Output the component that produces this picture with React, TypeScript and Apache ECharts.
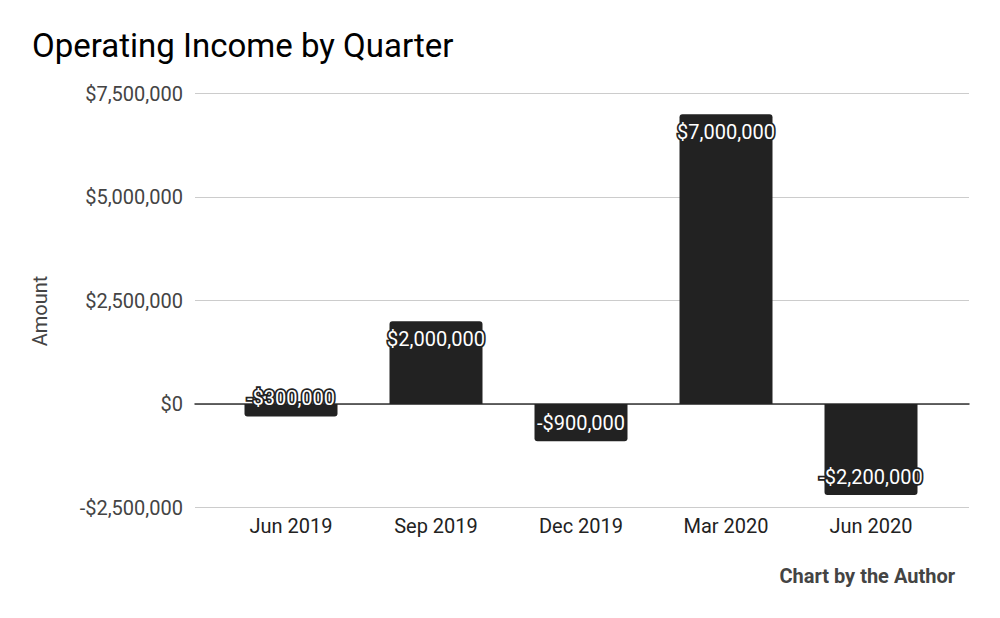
import React, { useEffect, useRef } from "react";
import * as echarts from "echarts";

const categories = ["Jun 2019", "Sep 2019", "Dec 2019", "Mar 2020", "Jun 2020"];
const operatingIncome = [-300000, 2000000, -900000, 7000000, -2200000];
const yMin = -2500000;
const yMax = 7500000;
const yStep = 2500000;

const money = (v: number) => {
  const s = Math.abs(v).toLocaleString("en-US");
  return (v < 0 ? "-$" : "$") + s;
};

export default function App() {
  const ref = useRef<HTMLDivElement>(null);
  useEffect(() => {
    if (!ref.current) return;
    const chart = echarts.init(ref.current, null, { renderer: "svg" });
    const font = "Roboto";
    chart.setOption({
      animation: false,
      backgroundColor: "#ffffff",
      textStyle: { fontFamily: font },
      title: {
        text: "Operating Income by Quarter",
        left: 27,
        top: 24,
        textStyle: { fontFamily: font, fontSize: 33, fontWeight: "normal", color: "#000000" },
      },
      graphic: [
        {
          type: "text",
          right: 45,
          top: 566,
          style: {
            text: "Chart by the Author",
            font: `bold 20px ${font}`,
            fill: "#444444",
          },
        },
        {
          type: "text",
          x: 40,
          y: 311,
          rotation: Math.PI / 2,
          style: {
            text: "Amount",
            font: `20px ${font}`,
            fill: "#444444",
            align: "center",
            verticalAlign: "middle",
          },
        },
      ],
      grid: [
        { left: 195, right: 31, top: 93.5, bottom: 110.5 },
        { left: 218.5, right: 56.5, top: 93.5, bottom: 110.5 },
      ],
      xAxis: [
        {
          type: "value",
          gridIndex: 0,
          min: 0,
          max: 1,
          axisLine: { show: true, onZero: true, lineStyle: { color: "#333333", width: 1.5 } },
          axisTick: { show: false },
          axisLabel: { show: false },
          splitLine: { show: false },
        },
        {
          type: "category",
          gridIndex: 1,
          data: categories,
          axisLine: { show: false, onZero: false },
          axisTick: { show: false },
          axisLabel: { fontFamily: font, fontSize: 20, color: "#222222", margin: 8 },
        },
      ],
      yAxis: [
        {
          type: "value",
          gridIndex: 0,
          min: yMin,
          max: yMax,
          interval: yStep,
          axisLine: { show: false },
          axisTick: { show: false },
          axisLabel: {
            fontFamily: font,
            fontSize: 20,
            color: "#444444",
            margin: 12,
            formatter: (v: number) => money(v),
          },
          splitLine: { show: true, lineStyle: { color: "#cccccc", width: 1 } },
        },
        {
          type: "value",
          gridIndex: 1,
          min: yMin,
          max: yMax,
          interval: yStep,
          show: false,
          splitLine: { show: false },
        },
      ],
      series: [
        {
          type: "bar",
          xAxisIndex: 1,
          yAxisIndex: 1,
          barWidth: 93,
          data: operatingIncome.map((v) => ({
            value: v,
            itemStyle: {
              color: "#222222",
              borderRadius: v >= 0 ? [3, 3, 0, 0] : [0, 0, 3, 3],
            },
            label: {
              show: true,
              position: v >= 0 ? "insideTop" : "insideBottom",
              distance: 8,
            },
          })),
          label: {
            show: true,
            fontFamily: font,
            fontSize: 20,
            color: "#ffffff",
            textBorderColor: "#222222",
            textBorderWidth: 3.5,
            formatter: (p: any) => money(p.value),
          },
        },
      ],
    });
    return () => chart.dispose();
  }, []);
  return (
    <div
      ref={ref}
      style={{ position: "fixed", left: 0, top: 0, width: 1000, height: 618 }}
    />
  );
}
